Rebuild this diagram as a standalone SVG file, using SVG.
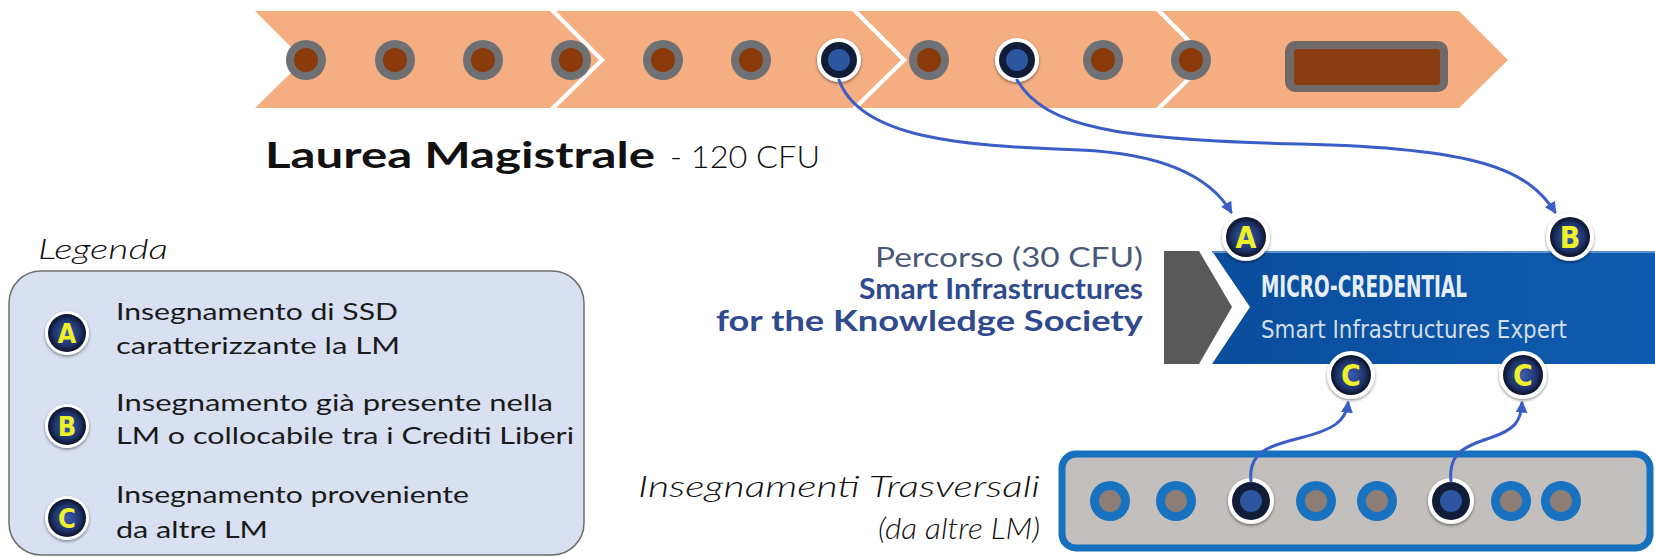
<svg xmlns="http://www.w3.org/2000/svg" width="1655" height="558" viewBox="0 0 1655 558">
<style>
.rib{fill:#F4AE82}
.og{fill:#6F7074}
.ob{fill:#8A3A0B}
.wr{fill:#FFFFFF}
.nv{fill:#111C36}
.bl{fill:#2E56A0}
.lr{fill:#1872BF}
.li{fill:#8C7E76}
.conn{fill:none;stroke:#3B5EC6;stroke-width:3;stroke-linecap:round}
.lt{font-family:Lato,"Open Sans","Liberation Sans",sans-serif;font-size:24px;fill:#1a1a1a}
.badge{font-family:"DejaVu Sans Condensed","Liberation Sans",sans-serif;font-weight:bold;fill:#EEF02A;text-anchor:middle}
</style>
<defs>
<radialGradient id="bg" cx="50%" cy="50%" r="50%">
<stop offset="0" stop-color="#3A5CB0"/>
<stop offset="0.7" stop-color="#1E336B"/>
<stop offset="1" stop-color="#0B1226"/>
</radialGradient>
<linearGradient id="ban" x1="0" y1="0" x2="1" y2="0">
<stop offset="0" stop-color="#0A4C9C"/>
<stop offset="1" stop-color="#0E5CB0"/>
</linearGradient>
<filter id="sh" x="-30%" y="-30%" width="160%" height="160%">
<feDropShadow dx="0" dy="1.5" stdDeviation="1.5" flood-color="#000" flood-opacity="0.45"/>
</filter>
<marker id="ar" viewBox="0 0 10 10" refX="8" refY="5" markerWidth="4" markerHeight="4" orient="auto">
<path d="M0,0 L10,5 L0,10 z" fill="#3B5EC6"/>
</marker>
</defs>

<g id="ribbon">
<polygon class="rib" points="255,11 550,11 599,60 550,108 255,108 304,60"/>
<polygon class="rib" points="556,11 852,11 901,60 852,108 556,108 605,60"/>
<polygon class="rib" points="858,11 1156,11 1205,60 1156,108 858,108 907,60"/>
<polygon class="rib" points="1162,11 1459,11 1508,60 1459,108 1162,108 1211,60"/>
<g id="ribbon-dots">
<circle class="og" cx="306" cy="60" r="20"/><circle class="ob" cx="306" cy="60" r="12"/>
<circle class="og" cx="395" cy="60" r="20"/><circle class="ob" cx="395" cy="60" r="12"/>
<circle class="og" cx="483" cy="60" r="20"/><circle class="ob" cx="483" cy="60" r="12"/>
<circle class="og" cx="571" cy="60" r="20"/><circle class="ob" cx="571" cy="60" r="12"/>
<circle class="og" cx="663" cy="60" r="20"/><circle class="ob" cx="663" cy="60" r="12"/>
<circle class="og" cx="751" cy="60" r="20"/><circle class="ob" cx="751" cy="60" r="12"/>
<circle class="og" cx="929" cy="60" r="20"/><circle class="ob" cx="929" cy="60" r="12"/>
<circle class="og" cx="1103" cy="60" r="20"/><circle class="ob" cx="1103" cy="60" r="12"/>
<circle class="og" cx="1191" cy="60" r="20"/><circle class="ob" cx="1191" cy="60" r="12"/>
</g>
<g id="ribbon-blue-1">
<circle class="wr" cx="839" cy="60" r="22" filter="url(#sh)"/><circle class="nv" cx="839" cy="60" r="18"/><circle class="bl" cx="839" cy="60" r="11"/>
</g>
<g id="ribbon-blue-2">
<circle class="wr" cx="1017" cy="60" r="22" filter="url(#sh)"/><circle class="nv" cx="1017" cy="60" r="18"/><circle class="bl" cx="1017" cy="60" r="11"/>
</g>
<g id="ribbon-thesis">
<rect x="1285" y="41" width="163" height="51" rx="10" fill="#6F6A69"/>
<rect x="1294" y="49" width="146" height="36" rx="3" fill="#8A3C12"/>
</g>
</g>

<g id="title">
<text x="265" y="168" font-family="Lato,'Open Sans','Liberation Sans',sans-serif" font-weight="bold" font-size="36" fill="#111" textLength="390" lengthAdjust="spacingAndGlyphs">Laurea Magistrale</text>
<text x="670" y="168" font-family="Lato,'Open Sans','Liberation Sans',sans-serif" font-weight="300" font-size="31" fill="#111" textLength="150" lengthAdjust="spacingAndGlyphs">- 120 CFU</text>
</g>

<g id="legend">
<text x="38" y="259" font-family="Lato,'Open Sans','Liberation Sans',sans-serif" font-style="italic" font-weight="300" font-size="27" fill="#111" textLength="130" lengthAdjust="spacingAndGlyphs">Legenda</text>
<rect x="9" y="271" width="575" height="284" rx="32" fill="#D8E0F1" stroke="#6E6E6E" stroke-width="1.5"/>
<g id="legend-A">
<circle class="wr" cx="67" cy="333" r="22" filter="url(#sh)"/><circle cx="67" cy="333" r="19" fill="url(#bg)"/>
<text class="badge" x="67" y="343" font-size="27">A</text>
<text class="lt" x="116" y="320" textLength="282" lengthAdjust="spacingAndGlyphs">Insegnamento di SSD</text>
<text class="lt" x="116" y="354" textLength="284" lengthAdjust="spacingAndGlyphs">caratterizzante la LM</text>
</g>
<g id="legend-B">
<circle class="wr" cx="67" cy="426" r="22" filter="url(#sh)"/><circle cx="67" cy="426" r="19" fill="url(#bg)"/>
<text class="badge" x="67" y="436" font-size="27">B</text>
<text class="lt" x="116" y="411" textLength="437" lengthAdjust="spacingAndGlyphs">Insegnamento già presente nella</text>
<text class="lt" x="116" y="444" textLength="458" lengthAdjust="spacingAndGlyphs">LM o collocabile tra i Crediti Liberi</text>
</g>
<g id="legend-C">
<circle class="wr" cx="67" cy="518" r="22" filter="url(#sh)"/><circle cx="67" cy="518" r="19" fill="url(#bg)"/>
<text class="badge" x="67" y="528" font-size="27">C</text>
<text class="lt" x="116" y="503" textLength="353" lengthAdjust="spacingAndGlyphs">Insegnamento proveniente</text>
<text class="lt" x="116" y="538" textLength="152" lengthAdjust="spacingAndGlyphs">da altre LM</text>
</g>
</g>

<g id="percorso">
<text x="1143" y="267" text-anchor="end" font-family="Lato,'Open Sans','Liberation Sans',sans-serif" font-size="27" fill="#4A5878" textLength="268" lengthAdjust="spacingAndGlyphs">Percorso (30 CFU)</text>
<text x="1143" y="299" text-anchor="end" font-family="Lato,'Open Sans','Liberation Sans',sans-serif" font-weight="bold" font-size="28" fill="#2F4A8E" textLength="284" lengthAdjust="spacingAndGlyphs">Smart Infrastructures</text>
<text x="1143" y="331" text-anchor="end" font-family="Lato,'Open Sans','Liberation Sans',sans-serif" font-weight="bold" font-size="28" fill="#2F4A8E" textLength="427" lengthAdjust="spacingAndGlyphs">for the Knowledge Society</text>
</g>

<g id="micro-credential">
<polygon points="1164,251 1199,251 1232,307 1199,364 1164,364" fill="#595959"/>
<polygon points="1212,251 1655,251 1655,364 1212,364 1250,307" fill="url(#ban)"/>
<line x1="1212" y1="252" x2="1655" y2="252" stroke="#5B8FD0" stroke-width="2"/>
<text x="1261" y="297" font-family="'DejaVu Sans Condensed','DejaVu Sans',sans-serif" font-weight="bold" font-size="30" fill="#E6EEF7" textLength="206" lengthAdjust="spacingAndGlyphs">MICRO-CREDENTIAL</text>
<text x="1261" y="338" font-family="'DejaVu Sans Condensed','DejaVu Sans',sans-serif" font-size="25" fill="#D3DEEC" textLength="306" lengthAdjust="spacingAndGlyphs">Smart Infrastructures Expert</text>
</g>

<g id="badge-A">
<circle class="wr" cx="1246" cy="237" r="24" filter="url(#sh)"/><circle cx="1246" cy="237" r="20" fill="url(#bg)"/>
<text class="badge" x="1246" y="248" font-size="30">A</text>
</g>
<g id="badge-B">
<circle class="wr" cx="1570" cy="237" r="24" filter="url(#sh)"/><circle cx="1570" cy="237" r="20" fill="url(#bg)"/>
<text class="badge" x="1570" y="248" font-size="30">B</text>
</g>
<g id="badge-C1">
<circle class="wr" cx="1351" cy="375" r="24" filter="url(#sh)"/><circle cx="1351" cy="375" r="20" fill="url(#bg)"/>
<text class="badge" x="1351" y="386" font-size="30">C</text>
</g>
<g id="badge-C2">
<circle class="wr" cx="1523" cy="375" r="24" filter="url(#sh)"/><circle cx="1523" cy="375" r="20" fill="url(#bg)"/>
<text class="badge" x="1523" y="386" font-size="30">C</text>
</g>

<g id="trasversali-label">
<text x="1040" y="497" text-anchor="end" font-family="Lato,'Open Sans','Liberation Sans',sans-serif" font-style="italic" font-weight="300" font-size="30" fill="#111" textLength="402" lengthAdjust="spacingAndGlyphs">Insegnamenti Trasversali</text>
<text x="1040" y="539" text-anchor="end" font-family="Lato,'Open Sans','Liberation Sans',sans-serif" font-style="italic" font-weight="300" font-size="30" fill="#111" textLength="162" lengthAdjust="spacingAndGlyphs">(da altre LM)</text>
</g>

<g id="trasversali">
<rect x="1062" y="454" width="588" height="94" rx="14" fill="#C2BFBC" stroke="#1570BE" stroke-width="7"/>
<circle class="lr" cx="1110" cy="501" r="20"/><circle class="li" cx="1110" cy="501" r="11"/>
<circle class="lr" cx="1176" cy="501" r="20"/><circle class="li" cx="1176" cy="501" r="11"/>
<circle class="lr" cx="1316" cy="501" r="20"/><circle class="li" cx="1316" cy="501" r="11"/>
<circle class="lr" cx="1377" cy="501" r="20"/><circle class="li" cx="1377" cy="501" r="11"/>
<circle class="lr" cx="1511" cy="501" r="20"/><circle class="li" cx="1511" cy="501" r="11"/>
<circle class="lr" cx="1561" cy="501" r="20"/><circle class="li" cx="1561" cy="501" r="11"/>
<g id="trasv-dark-1">
<circle class="wr" cx="1251" cy="501" r="23" filter="url(#sh)"/><circle class="nv" cx="1251" cy="501" r="19"/><circle class="bl" cx="1251" cy="501" r="11"/>
</g>
<g id="trasv-dark-2">
<circle class="wr" cx="1451" cy="501" r="23" filter="url(#sh)"/><circle class="nv" cx="1451" cy="501" r="19"/><circle class="bl" cx="1451" cy="501" r="11"/>
</g>
</g>

<g id="connectors">
<path class="conn" marker-end="url(#ar)" d="M839,80 C860,138 960,146 1080,150 C1170,154 1212,180 1231,212"/>
<path class="conn" marker-end="url(#ar)" d="M1017,80 C1045,128 1120,140 1300,144 C1480,148 1528,170 1555,212"/>
<path class="conn" marker-end="url(#ar)" d="M1251,481 C1248,452 1268,446 1300,438 C1332,430 1346,422 1348,403"/>
<path class="conn" marker-end="url(#ar)" d="M1451,481 C1448,452 1466,446 1490,438 C1514,430 1521,422 1522,403"/>
</g>
</svg>
